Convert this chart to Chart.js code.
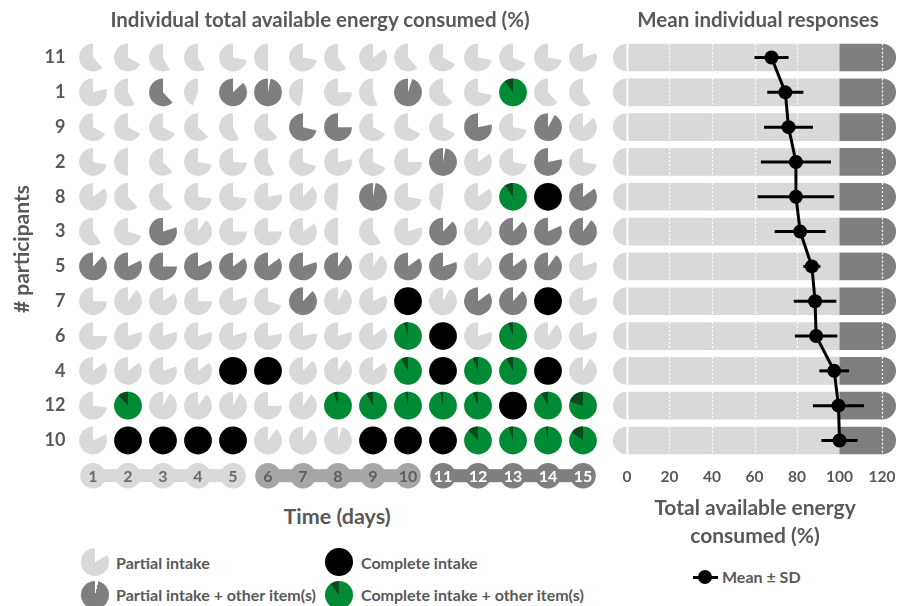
<!DOCTYPE html>
<html>
<head>
<meta charset="utf-8">
<script src="https://cdn.jsdelivr.net/npm/chart.js@4.4.1/dist/chart.umd.min.js"></script>
<style>
  html, body { margin: 0; padding: 0; background: #fff; }
  body { width: 909px; height: 606px; position: relative; overflow: hidden;
         font-family: Lato, "Open Sans", sans-serif; font-weight: 700; color: #595959; }
  .abs { position: absolute; white-space: nowrap; line-height: 1; }
  .center { transform: translateX(-50%); text-align: center; }
  #leftBox { position: absolute; left: 0; top: 0; width: 610px; height: 500px; }
  #rightBox { position: absolute; left: 600px; top: 0; width: 309px; height: 500px; }
  .title { font-size: 20.5px; top: 9px; }
  .sym { position: absolute; width: 28px; height: 28px; border-radius: 50%; }
  .leg { font-size: 16px; }
</style>
</head>
<body>
<div id="leftBox"><canvas id="pies"></canvas></div>
<div id="rightBox"><canvas id="means"></canvas></div>

<div class="abs title center" style="left:320px">Individual total available energy consumed (%)</div>
<div class="abs title center" style="left:758px">Mean individual responses</div>
<div class="abs center" style="left:337px;top:506px;font-size:21.5px">Time (days)</div>
<div class="abs center" style="left:755px;top:493px;font-size:21px;line-height:28px">Total available energy<br>consumed (%)</div>

<!-- intake legend -->
<div class="sym" style="left:81px;top:548px;background:conic-gradient(transparent 0 17%, #d9d9d9 0)"></div>
<div class="abs leg" style="left:116px;top:555px">Partial intake</div>
<div class="sym" style="left:325px;top:548px;background:#000"></div>
<div class="abs leg" style="left:361px;top:555px">Complete intake</div>
<div class="sym" style="left:81px;top:581px;background:conic-gradient(transparent 0 4%, #7f7f7f 0)"></div>
<div class="abs leg" style="left:116px;top:587px">Partial intake + other item(s)</div>
<div class="sym" style="left:325px;top:581px;background:conic-gradient(#008a34 0 90%, #0a4a1c 0)"></div>
<div class="abs leg" style="left:361px;top:587px">Complete intake + other item(s)</div>

<!-- mean legend -->
<div style="position:absolute;left:693px;top:575.5px;width:25px;height:3px;background:#000"></div>
<div style="position:absolute;left:698px;top:570px;width:14px;height:14px;border-radius:50%;background:#000"></div>
<div class="abs leg" style="left:722px;top:569px">Mean ± SD</div>

<script>
// Participants, top row first
const participants = ['11', '1', '9', '2', '8', '3', '5', '7', '6', '4', '12', '10'];
const days = [1, 2, 3, 4, 5, 6, 7, 8, 9, 10, 11, 12, 13, 14, 15];

// Daily intake kind: p = partial, o = partial + other item(s),
// c = complete, g = complete + other item(s)
const intakeKind = [
  'ppppppppppppppp',
  'ppopoopppoppgpp',
  'ppppppoopppopop',
  'ppppppppppoppop',
  'ppppppppopppgco',
  'ppopppppppopooo',
  'oooooooopoopoop',
  'ppppppoppcpoocp',
  'pppppppppgcpgpp',
  'ppppccpppgcggcp',
  'pgpppppgggggcgg',
  'pccccpppcccgggg'
];

// Share of the offered item eaten each day (%)
const intakePct = [
  [62, 67, 58, 58, 72, 50, 72, 60, 85, 62, 67, 72, 68, 72, 80],
  [79, 58, 62, 44, 87, 97, 47, 75, 55, 95, 62, 72, 100, 62, 60],
  [67, 67, 67, 63, 57, 62, 71, 75, 67, 67, 67, 78, 72, 92, 87],
  [72, 50, 62, 72, 74, 58, 70, 78, 68, 75, 97, 85, 72, 78, 72],
  [85, 62, 62, 73, 73, 78, 88, 48, 97, 72, 47, 85, 100, 100, 85],
  [60, 70, 80, 90, 75, 75, 85, 50, 60, 80, 88, 90, 88, 82, 90],
  [88, 82, 75, 82, 85, 85, 80, 90, 90, 85, 80, 88, 85, 90, 80],
  [75, 90, 85, 75, 80, 70, 88, 92, 82, 100, 92, 85, 88, 100, 80],
  [75, 80, 80, 80, 80, 78, 78, 80, 85, 100, 100, 80, 100, 90, 80],
  [85, 85, 80, 85, 100, 100, 88, 90, 85, 100, 100, 100, 100, 100, 92],
  [73, 100, 92, 90, 92, 75, 90, 100, 100, 100, 100, 100, 100, 100, 100],
  [82, 100, 100, 100, 100, 90, 90, 95, 100, 100, 100, 100, 100, 100, 100]
];

// Share of the energy coming from other item(s) on complete-intake days (%)
const otherShare = [
  [0, 0, 0, 0, 0, 0, 0, 0, 0, 0, 0, 0, 0, 0, 0],
  [0, 0, 0, 0, 0, 0, 0, 0, 0, 0, 0, 0, 10, 0, 0],
  [0, 0, 0, 0, 0, 0, 0, 0, 0, 0, 0, 0, 0, 0, 0],
  [0, 0, 0, 0, 0, 0, 0, 0, 0, 0, 0, 0, 0, 0, 0],
  [0, 0, 0, 0, 0, 0, 0, 0, 0, 0, 0, 0, 10, 0, 0],
  [0, 0, 0, 0, 0, 0, 0, 0, 0, 0, 0, 0, 0, 0, 0],
  [0, 0, 0, 0, 0, 0, 0, 0, 0, 0, 0, 0, 0, 0, 0],
  [0, 0, 0, 0, 0, 0, 0, 0, 0, 0, 0, 0, 0, 0, 0],
  [0, 0, 0, 0, 0, 0, 0, 0, 0, 5, 0, 0, 6, 0, 0],
  [0, 0, 0, 0, 0, 0, 0, 0, 0, 8, 0, 6, 8, 0, 0],
  [0, 12, 0, 0, 0, 0, 0, 5, 8, 3, 3, 6, 0, 8, 20],
  [0, 0, 0, 0, 0, 0, 0, 0, 0, 0, 0, 12, 5, 3, 15]
];

// Mean individual responses (% of total available energy)
const meanIntake = [68, 74.5, 76, 79.5, 79.5, 81.5, 87, 88.5, 89, 97.5, 99.5, 100];
const sdIntake   = [8, 8.5, 11.5, 16.5, 18, 12, 4, 10, 10, 7, 12, 8.5];
const energyTicks = [0, 20, 40, 60, 80, 100, 120];

const FONT = 'Lato, "Open Sans", sans-serif';
const TEXT = '#595959';
const COLORS = { p: '#d9d9d9', o: '#7f7f7f', c: '#000000', g: '#008a34', gDark: '#0a4a1c' };
const PIE_R = 13.9;

// ---------- left panel: one pie per participant and day ----------
const piePoints = [];
participants.forEach((p, r) => {
  days.forEach((d, c) => {
    piePoints.push({ x: d, y: p, kind: intakeKind[r][c], pct: intakePct[r][c], other: otherShare[r][c] });
  });
});

const pieGlyphs = {
  id: 'pieGlyphs',
  afterDatasetsDraw(chart) {
    const ctx = chart.ctx;
    const meta = chart.getDatasetMeta(0);
    const top = -Math.PI / 2;
    meta.data.forEach((el, i) => {
      const d = chart.data.datasets[0].data[i];
      const x = el.x, y = el.y;
      ctx.save();
      if (d.kind === 'c') {
        ctx.fillStyle = COLORS.c;
        ctx.beginPath(); ctx.arc(x, y, PIE_R, 0, Math.PI * 2); ctx.fill();
      } else if (d.kind === 'g') {
        ctx.fillStyle = COLORS.g;
        ctx.beginPath(); ctx.arc(x, y, PIE_R, 0, Math.PI * 2); ctx.fill();
        const a = d.other / 100 * Math.PI * 2;
        ctx.fillStyle = COLORS.gDark;
        ctx.beginPath(); ctx.moveTo(x, y); ctx.arc(x, y, PIE_R, top - a, top); ctx.closePath(); ctx.fill();
      } else {
        const miss = (1 - d.pct / 100) * Math.PI * 2;
        ctx.fillStyle = COLORS[d.kind];
        ctx.beginPath(); ctx.moveTo(x, y); ctx.arc(x, y, PIE_R, top + miss, top + Math.PI * 2); ctx.closePath(); ctx.fill();
      }
      ctx.restore();
    });
  },
  // day axis: numbered discs joined in blocks of five days
  afterDraw(chart) {
    const ctx = chart.ctx;
    const xs = chart.scales.x;
    const y = chart.chartArea.bottom + 17.8;
    const blockFill = ['#d9d9d9', '#a6a6a6', '#7f7f7f'];
    const blockText = ['#6a6a6a', '#5e5e5e', '#ffffff'];
    ctx.save();
    for (let b = 0; b < 3; b++) {
      const first = days[b * 5], last = days[b * 5 + 4];
      ctx.fillStyle = blockFill[b];
      ctx.fillRect(xs.getPixelForValue(first), y - 6.5, xs.getPixelForValue(last) - xs.getPixelForValue(first), 13);
    }
    days.forEach((d, i) => {
      const b = Math.floor(i / 5);
      const px = xs.getPixelForValue(d);
      ctx.fillStyle = blockFill[b];
      ctx.beginPath(); ctx.arc(px, y, 12.8, 0, Math.PI * 2); ctx.fill();
      ctx.fillStyle = blockText[b];
      ctx.font = '700 16px ' + FONT;
      ctx.textAlign = 'center';
      ctx.textBaseline = 'middle';
      ctx.fillText(String(d), px, y + 1);
    });
    ctx.restore();
  }
};

new Chart(document.getElementById('pies'), {
  type: 'scatter',
  data: { datasets: [{ data: piePoints, pointRadius: 0, pointHoverRadius: 0 }] },
  options: {
    responsive: true, maintainAspectRatio: false, animation: false, events: [],
    layout: { padding: { left: 0, right: 9.5, top: 40.1, bottom: 42.1 } },
    plugins: { legend: { display: false }, tooltip: { enabled: false } },
    scales: {
      x: { type: 'linear', min: 0.5, max: 15.5, display: false },
      y: {
        type: 'category', labels: participants, offset: true,
        grid: { display: false, drawTicks: false }, border: { display: false },
        ticks: { font: { family: FONT, size: 18, weight: 'bold' }, color: TEXT, padding: 10 },
        title: { display: true, text: '# participants', color: TEXT,
                 font: { family: FONT, size: 21, weight: 'bold' }, padding: { top: 10, bottom: 0 } },
        afterFit(s) { s.width = 75.5; }
      }
    }
  },
  plugins: [pieGlyphs]
});

// ---------- right panel: mean ± SD over a 0-100 / 100+ track ----------
const trackStart = -6.6, fullIntake = 100, trackEnd = 126.6;

const trackMarks = {
  id: 'trackMarks',
  beforeDatasetDraw(chart, args) {
    if (args.meta.type !== 'line') return;
    const { ctx, scales: { x } } = chart;
    const bars = chart.getDatasetMeta(1).data;
    ctx.save();
    // reference lines across each track
    energyTicks.forEach(v => {
      if (v === fullIntake) return;
      const px = Math.round(x.getPixelForValue(v)) + 0.5;
      ctx.strokeStyle = '#ffffff';
      ctx.lineWidth = v === 0 ? 2 : 1.2;
      ctx.setLineDash(v === 0 ? [] : [2, 2]);
      bars.forEach(b => {
        ctx.beginPath();
        ctx.moveTo(px, b.y - b.height / 2);
        ctx.lineTo(px, b.y + b.height / 2);
        ctx.stroke();
      });
    });
    // ± SD whiskers
    ctx.setLineDash([]);
    ctx.strokeStyle = '#000';
    ctx.lineWidth = 3;
    args.meta.data.forEach((pt, i) => {
      ctx.beginPath();
      ctx.moveTo(x.getPixelForValue(meanIntake[i] - sdIntake[i]), pt.y);
      ctx.lineTo(x.getPixelForValue(meanIntake[i] + sdIntake[i]), pt.y);
      ctx.stroke();
    });
    ctx.restore();
  }
};

new Chart(document.getElementById('means'), {
  type: 'bar',
  data: {
    labels: participants,
    datasets: [
      { type: 'line', label: 'Mean ± SD', data: meanIntake, indexAxis: 'y',
        borderColor: '#000', borderWidth: 3, pointRadius: 7, pointBackgroundColor: '#000',
        pointBorderWidth: 0, tension: 0, order: 0 },
      { label: '0-100', data: participants.map(() => [trackStart, fullIntake]),
        backgroundColor: '#d9d9d9', borderSkipped: false, grouped: false, order: 2,
        borderRadius: { topLeft: 14, bottomLeft: 14, topRight: 0, bottomRight: 0 } },
      { label: '100+', data: participants.map(() => [fullIntake, trackEnd]),
        backgroundColor: '#7f7f7f', borderSkipped: false, grouped: false, order: 1,
        borderRadius: { topLeft: 0, bottomLeft: 0, topRight: 14, bottomRight: 14 } }
    ]
  },
  options: {
    indexAxis: 'y', responsive: true, maintainAspectRatio: false, animation: false, events: [],
    datasets: { bar: { barPercentage: 0.795, categoryPercentage: 1 } },
    layout: { padding: { left: 12.1, right: 12.1, top: 40.1, bottom: 0 } },
    plugins: { legend: { display: false }, tooltip: { enabled: false } },
    scales: {
      y: { display: false, offset: true },
      x: {
        min: -7, max: 127, position: 'bottom',
        grid: { display: false, drawTicks: false }, border: { display: false },
        afterBuildTicks(s) { s.ticks = energyTicks.map(v => ({ value: v })); },
        ticks: { font: { family: FONT, size: 15.5, weight: 'bold' }, color: TEXT, padding: 10 },
        afterFit(s) { s.height = 42.1; }
      }
    }
  },
  plugins: [trackMarks]
});
</script>
</body>
</html>
